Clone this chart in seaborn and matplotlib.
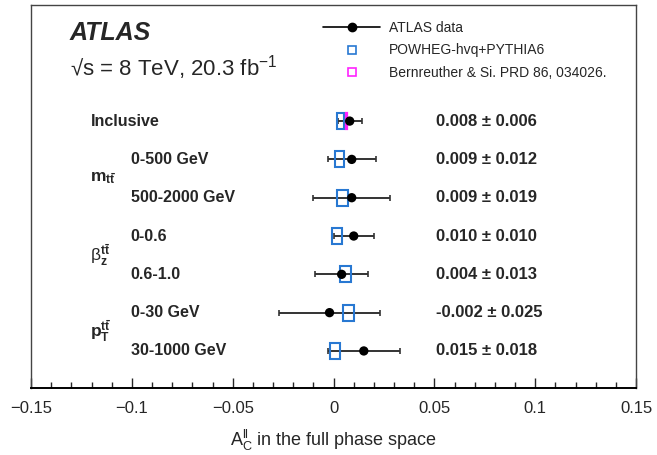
import numpy as np
import pandas as pd
import seaborn as sns
import matplotlib.pyplot as plt
from matplotlib.lines import Line2D
from matplotlib import transforms

# rows top to bottom
bins = ['Inclusive', '0-500 GeV', '500-2000 GeV', '0-0.6', '0.6-1.0', '0-30 GeV', '30-1000 GeV']
groups = ['m_tt', 'beta_z', 'pT_tt']
data_val = [0.008, 0.009, 0.009, 0.010, 0.004, -0.002, 0.015]
data_err = [0.006, 0.012, 0.019, 0.010, 0.013, 0.025, 0.018]
# POWHEG-hvq+PYTHIA6 prediction (centre, half width)
powheg_val = [0.0035, 0.0031, 0.0045, 0.0016, 0.0059, 0.0073, 0.0007]
powheg_err = [0.0018, 0.0022, 0.0029, 0.0024, 0.0026, 0.0027, 0.0024]
# Bernreuther & Si, inclusive only
bern_val = [0.0064]
bern_err = [0.0002]

xticks = [-0.15, -0.1, -0.05, 0, 0.05, 0.1, 0.15]
xticklabels = ['\u22120.15', '\u22120.1', '\u22120.05', '0', '0.05', '0.1', '0.15']

sns.set_theme(style='white')
plt.rcParams['font.family'] = ['Liberation Sans', 'DejaVu Sans']
plt.rcParams['mathtext.fontset'] = 'custom'
plt.rcParams['mathtext.rm'] = 'Liberation Sans'
plt.rcParams['mathtext.it'] = 'Liberation Sans:italic'
plt.rcParams['mathtext.bf'] = 'Liberation Sans:bold'

df = pd.DataFrame({'bin': bins, 'row': np.arange(len(bins)),
                   'val': data_val, 'err': data_err,
                   'pw': powheg_val, 'pw_err': powheg_err})

fig = plt.figure(figsize=(6.57, 4.55), dpi=100)
ax = fig.add_axes([0.0472, 0.147, 0.921, 0.842])

blue = '#2878d2'
pink = '#ff22ff'

ax.errorbar(df['val'], df['row'], xerr=df['err'], fmt='none', ecolor='#333333',
            elinewidth=1.4, capsize=2.5, capthick=1.2, zorder=2)
ax.barh(df['row'], 2 * df['pw_err'], left=df['pw'] - df['pw_err'], height=0.42,
        facecolor='none', edgecolor=blue, linewidth=1.5, zorder=3)
ax.barh(df['row'][:1], 2 * np.array(bern_err), left=np.array(bern_val) - np.array(bern_err),
        height=0.42, facecolor='none', edgecolor=pink, linewidth=1.6, zorder=3)
sns.scatterplot(data=df, x='val', y='row', color='black', s=45, edgecolor='none',
                zorder=4, ax=ax, legend=False)

ax.set_xlim(-0.15, 0.15)
ax.set_ylim(6.97, -3.03)
ax.set_xticks(xticks)
ax.set_xticklabels(xticklabels, fontsize=12)
ax.set_xticks(np.arange(-0.14, 0.15, 0.01), minor=True)
ax.tick_params(axis='x', which='major', direction='in', length=7, width=1, pad=9,
               bottom=True, top=False)
ax.tick_params(axis='x', which='minor', direction='in', length=4, width=1,
               bottom=True, top=False)
ax.tick_params(axis='y', left=False, labelleft=False)
ax.set_ylabel('')
ax.set_xlabel(r'$\mathregular{A_C^{ll}}$ in the full phase space', fontsize=13, labelpad=9)
for side in ['top', 'left', 'right']:
    ax.spines[side].set_color('#444444')
    ax.spines[side].set_linewidth(1.0)
ax.spines['bottom'].set_color('black')
ax.spines['bottom'].set_linewidth(1.4)

tr = transforms.blended_transform_factory(ax.transAxes, ax.transData)
for i, (b, v, e) in enumerate(zip(bins, data_val, data_err)):
    xpos = 0.099 if i == 0 else 0.165
    ax.text(xpos, i, b, transform=tr, fontsize=11.5, fontweight='bold', va='center')
    ax.text(0.669, i, f'{v:.3f} \u00b1 {e:.3f}', transform=tr, fontsize=12,
            fontweight='bold', va='center')

group_labels = [r'$\mathbf{m_{t\bar{t}}}$', r'β$_{\mathbf{z}}^{\mathbf{t\bar{t}}}$',
                r'$\mathbf{p_{T}^{t\bar{t}}}$']
for g, lab in zip(range(len(groups)), group_labels):
    ax.text(0.098, 1.5 + 2 * g, lab, transform=tr, fontsize=12.5, va='center')

ax.text(0.064, 0.909, 'ATLAS', transform=ax.transAxes, fontsize=18,
        fontweight='bold', fontstyle='italic', va='baseline')
ax.text(0.064, 0.817, '\u221as = 8 TeV, 20.3 fb$^{\\mathrm{-1}}$',
        transform=ax.transAxes, fontsize=16, va='baseline')

handles = [Line2D([], [], color='black', marker='o', markersize=6, linewidth=1.2),
           Line2D([], [], color=blue, marker='s', markersize=6, markerfacecolor='none',
                  linestyle='none', markeredgewidth=1.2),
           Line2D([], [], color=pink, marker='s', markersize=6, markerfacecolor='none',
                  linestyle='none', markeredgewidth=1.2)]
labels = ['ATLAS data', 'POWHEG-hvq+PYTHIA6', 'Bernreuther & Si. PRD 86, 034026.']
ax.legend(handles, labels, loc='upper left', bbox_to_anchor=(0.483, 0.958),
          frameon=False, fontsize=10, handlelength=4.1, handletextpad=0.6,
          labelspacing=0.6, borderpad=0, borderaxespad=0)

fig.savefig('out.png', dpi=100)
